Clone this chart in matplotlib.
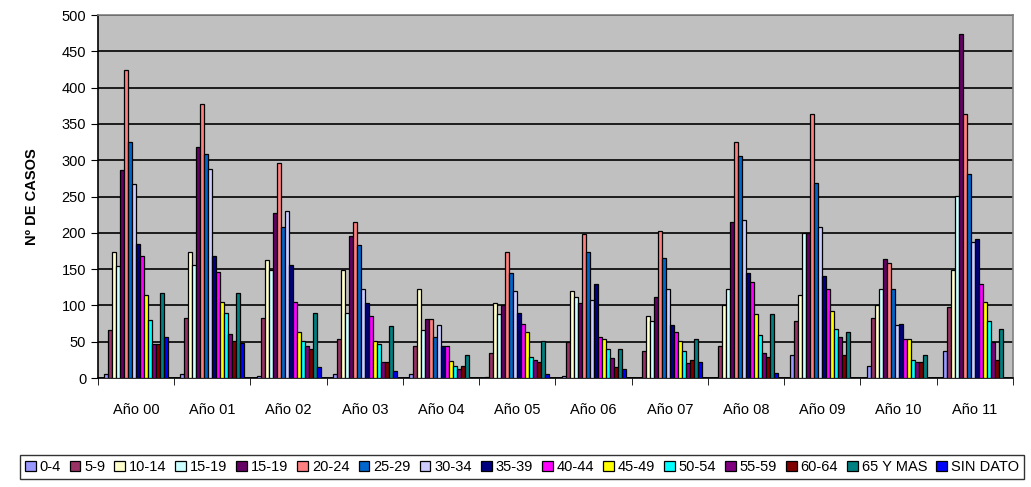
import numpy as np
import matplotlib
matplotlib.use("Agg")
import matplotlib.pyplot as plt

plt.rcParams['font.family'] = ['Liberation Sans', 'DejaVu Sans']

years = ['Año 00', 'Año 01', 'Año 02', 'Año 03', 'Año 04', 'Año 05',
         'Año 06', 'Año 07', 'Año 08', 'Año 09', 'Año 10', 'Año 11']

groups = ['0-4', '5-9', '10-14', '15-19', '15-19', '20-24', '25-29', '30-34',
          '35-39', '40-44', '45-49', '50-54', '55-59', '60-64', '65 Y MAS', 'SIN DATO']

colors = ['#9999FF', '#993366', '#FFFFCC', '#CCFFFF', '#660066', '#FF8080',
          '#0066CC', '#CCCCFF', '#000080', '#FF00FF', '#FFFF00', '#00FFFF',
          '#800080', '#800000', '#008080', '#0000FF']

# one row per year, one column per age group
anio_00 = [5, 66, 173, 154, 286, 425, 325, 267, 185, 168, 114, 80, 47, 47, 117, 56]
anio_01 = [5, 83, 173, 156, 318, 378, 308, 288, 168, 146, 105, 90, 61, 51, 117, 48]
anio_02 = [3, 83, 162, 149, 227, 296, 208, 230, 156, 105, 63, 51, 44, 40, 90, 15]
anio_03 = [5, 54, 149, 90, 196, 215, 183, 122, 103, 85, 51, 47, 22, 22, 71, 10]
anio_04 = [5, 44, 122, 66, 81, 81, 56, 73, 44, 44, 24, 17, 12, 17, 32, 0]
anio_05 = [1, 34, 103, 88, 100, 173, 144, 120, 90, 74, 63, 29, 25, 22, 51, 5]
anio_06 = [3, 49, 120, 112, 103, 198, 173, 107, 129, 56, 54, 40, 27, 15, 40, 12]
anio_07 = [0, 37, 85, 78, 112, 203, 166, 122, 73, 63, 51, 37, 20, 25, 54, 22]
anio_08 = [0, 44, 100, 122, 215, 325, 306, 218, 144, 132, 88, 59, 34, 29, 88, 7]
anio_09 = [32, 78, 115, 200, 200, 364, 269, 208, 141, 122, 93, 68, 56, 32, 63, 0]
anio_10 = [17, 83, 100, 122, 164, 159, 122, 73, 75, 54, 54, 25, 22, 22, 32, 0]
anio_11 = [37, 98, 149, 251, 474, 364, 281, 188, 191, 129, 105, 78, 50, 25, 68, 0]

data = np.array([anio_00, anio_01, anio_02, anio_03, anio_04, anio_05,
                 anio_06, anio_07, anio_08, anio_09, anio_10, anio_11])

fig = plt.figure(figsize=(10.31, 4.87), dpi=100)
ax = fig.add_axes([0.095, 0.2238, 0.8875, 0.7452])
ax.set_facecolor('#C0C0C0')

n = len(groups)
bw = 0.84 / n
x = np.arange(len(years))
for i in range(n):
    ax.bar(x - 0.42 + bw * (i + 0.5), data[:, i], width=bw, color=colors[i],
           edgecolor='black', linewidth=0.9, label=groups[i], zorder=3)

ax.set_xlim(-0.5, len(years) - 0.5)
ax.set_ylim(0, 500)
ax.set_yticks(np.arange(0, 501, 50))
ax.yaxis.grid(True, color='black', linewidth=1.2, zorder=0)
ax.set_axisbelow(True)

ax.set_xticks(x)
ax.set_xticklabels(years, fontsize=10.5)
ax.set_xticks(np.arange(-0.5, len(years)), minor=True)
ax.tick_params(axis='x', which='major', length=0, pad=18)
ax.tick_params(axis='x', which='minor', length=5, direction='out', color='black')
ax.tick_params(axis='y', length=5, direction='out', labelsize=10.5)

ax.spines['left'].set_color('black')
ax.spines['bottom'].set_color('black')
ax.spines['top'].set_color('#808080')
ax.spines['right'].set_color('#808080')
for s in ax.spines.values():
    s.set_linewidth(1.2)

ax.set_ylabel('Nº DE CASOS', fontsize=10.5, fontweight='bold', labelpad=16)

leg = fig.legend(loc='center', bbox_to_anchor=(0.506, 0.041), ncol=n,
                 fontsize=10.5, frameon=True, fancybox=False, handlelength=0.75,
                 handleheight=0.75, handletextpad=0.25, columnspacing=0.62,
                 borderpad=0.35, borderaxespad=0)
leg.get_frame().set_edgecolor('black')
leg.get_frame().set_linewidth(1.0)

fig.savefig('out.png', dpi=100)
